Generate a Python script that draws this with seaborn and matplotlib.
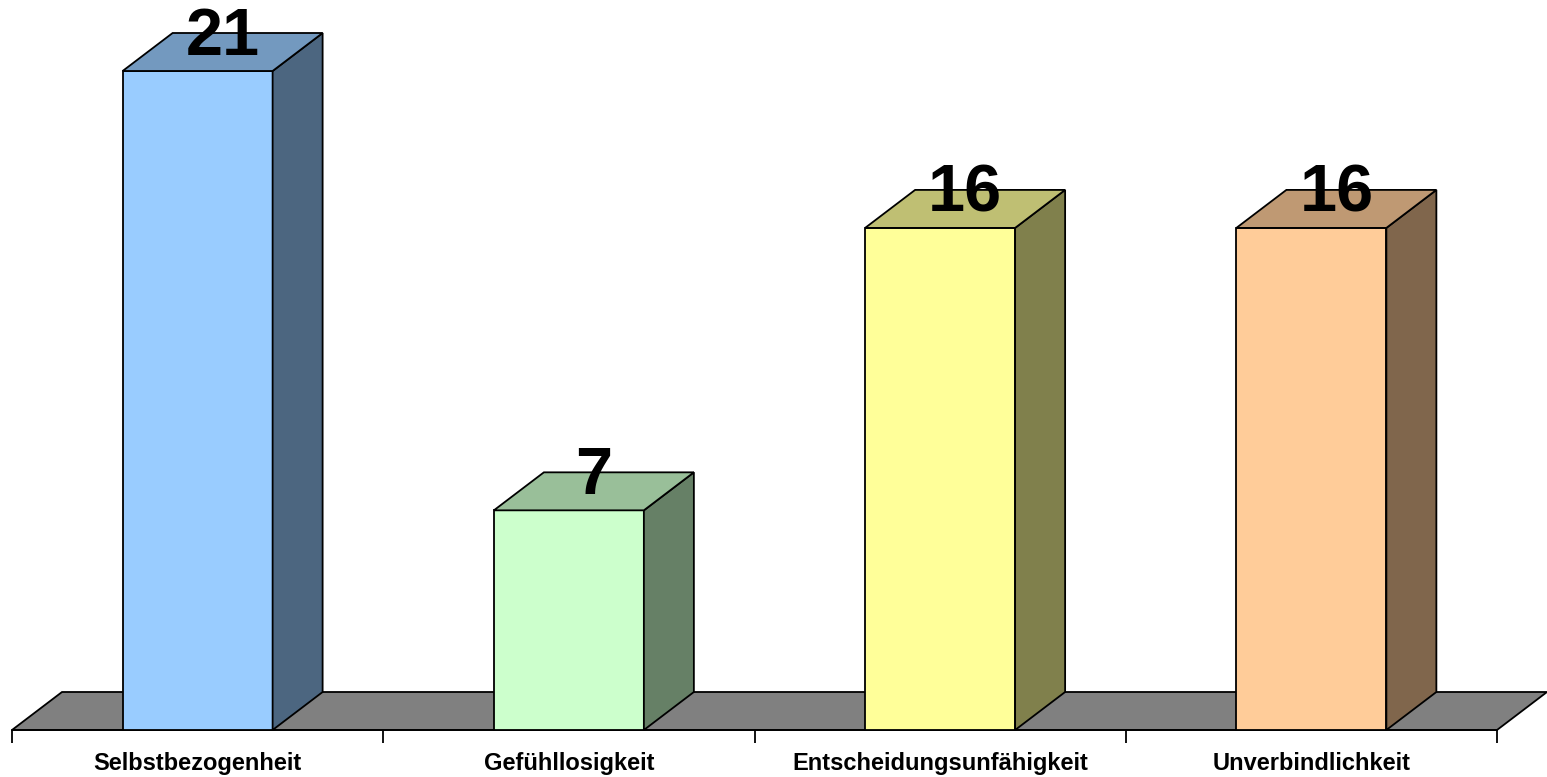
import matplotlib
matplotlib.use("Agg")
import matplotlib.pyplot as plt
import seaborn as sns
import pandas as pd
from matplotlib.patches import Polygon

categories = ["Selbstbezogenheit", "Gefühllosigkeit", "Entscheidungsunfähigkeit", "Unverbindlichkeit"]
values = [21, 7, 16, 16]
front_colors = ["#99CCFF", "#CCFFCC", "#FFFF99", "#FFCC99"]
side_colors = ["#4C6680", "#668066", "#80804C", "#80664C"]
top_colors = ["#7399BF", "#99BF99", "#BFBF73", "#BF9973"]

sns.set_theme(style="white")
plt.rcParams['font.family'] = ['Liberation Sans', 'DejaVu Sans']

W, H = 1547, 777
fig = plt.figure(figsize=(W / 100, H / 100), dpi=100)
px_left, px_right, px_floor = 12, 1497, 730
ax = fig.add_axes([px_left / W, (H - px_floor) / H, (px_right - px_left) / W, px_floor / H])

px_per_unit = 659 / 21.0
px_per_cat = (px_right - px_left) / 4.0
ymax = px_floor / px_per_unit
dx = 50 / px_per_cat
dy = 38 / px_per_unit

df = pd.DataFrame({"cat": categories, "val": values})
sns.barplot(data=df, x="cat", y="val", hue="cat", palette=front_colors, legend=False,
            width=0.404, edgecolor="black", linewidth=1.3, ax=ax, zorder=3, saturation=1)
ax.set_xlim(-0.5, 3.5)
ax.set_ylim(0, ymax)

# floor
floor = Polygon([(-0.5, 0), (3.5, 0), (3.5 + dx, dy), (-0.5 + dx, dy)], closed=True,
                facecolor="#808080", edgecolor="black", linewidth=1.3, zorder=1, clip_on=False)
ax.add_patch(floor)

for i, p in enumerate(ax.patches[:4]):
    x0 = p.get_x()
    x1 = x0 + p.get_width()
    h = p.get_height()
    p.set_clip_on(False)
    side = Polygon([(x1, 0), (x1 + dx, dy), (x1 + dx, h + dy), (x1, h)], closed=True,
                   facecolor=side_colors[i], edgecolor="black", linewidth=1.3, zorder=3, clip_on=False)
    top = Polygon([(x0, h), (x1, h), (x1 + dx, h + dy), (x0 + dx, h + dy)], closed=True,
                  facecolor=top_colors[i], edgecolor="black", linewidth=1.3, zorder=3, clip_on=False)
    ax.add_patch(side)
    ax.add_patch(top)
    ax.text((x0 + x1) / 2 + dx / 2, h + dy - 5 / px_per_unit, str(values[i]), ha="center", va="center",
            fontsize=48, fontweight="bold", color="black", zorder=5, clip_on=False)

for s in ["top", "right", "left"]:
    ax.spines[s].set_visible(False)
ax.spines["bottom"].set_color("black")
ax.spines["bottom"].set_linewidth(1.3)
ax.spines["bottom"].set_zorder(2)
ax.set_yticks([])
ax.set_xticks(range(4))
ax.set_xticklabels(categories, fontsize=17, fontweight="bold", color="black")
ax.tick_params(axis="x", which="major", length=0, pad=16, labelcolor="black")
ax.set_xticks([-0.5, 0.5, 1.5, 2.5, 3.5], minor=True)
ax.tick_params(axis="x", which="minor", length=9, width=1.3, color="black", direction="out", bottom=True)
ax.set_xlabel("")
ax.set_ylabel("")
ax.patch.set_alpha(0)

fig.savefig("out.png", dpi=100)
